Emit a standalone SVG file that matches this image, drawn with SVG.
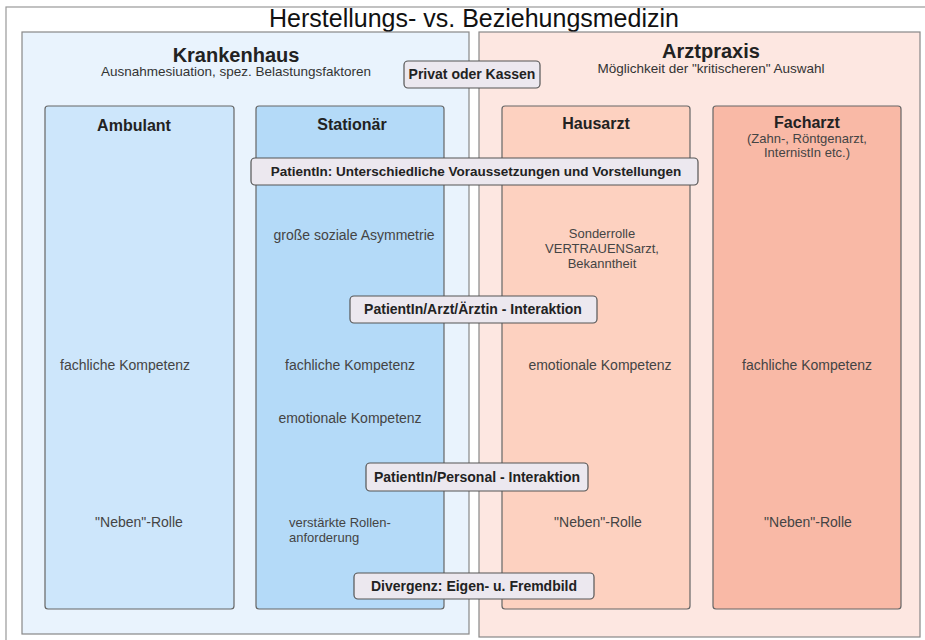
<svg xmlns="http://www.w3.org/2000/svg" width="925" height="640" viewBox="0 0 925 640">
<style>
text{font-family:"Liberation Sans",Arial,sans-serif}
.title{font-size:25px;fill:#111;text-anchor:middle}
.h1{font-size:20px;font-weight:bold;fill:#222;text-anchor:middle}
.sub{font-size:13.5px;fill:#333;text-anchor:middle}
.h2{font-size:16px;font-weight:bold;fill:#222;text-anchor:middle}
.body{font-size:14px;fill:#444;text-anchor:middle}
.ml{font-size:13px}
.left{text-anchor:start}
.pill rect{fill:#ECE8EF;stroke:#555;stroke-width:1.2}
.pill text{font-size:14px;font-weight:bold;fill:#222;text-anchor:middle}
.col{stroke:#666;stroke-width:1.2}
</style>
<rect x="0" y="0" width="925" height="640" fill="#ffffff"/>
<rect x="6" y="7" width="930" height="650" fill="#ffffff" stroke="#999" stroke-width="1.2"/>
<text class="title" x="474" y="27">Herstellungs- vs. Beziehungsmedizin</text>

<g id="krankenhaus">
<rect x="22" y="32" width="447" height="602" fill="#E9F3FD" stroke="#888" stroke-width="1.2"/>
<text class="h1" x="236" y="62">Krankenhaus</text>
<text class="sub" x="236" y="76">Ausnahmesiuation, spez. Belastungsfaktoren</text>
</g>
<g id="arztpraxis">
<rect x="479" y="32" width="441" height="605" fill="#FDE7E1" stroke="#888" stroke-width="1.2"/>
<text class="h1" x="711" y="58">Arztpraxis</text>
<text class="sub" x="711" y="73">Möglichkeit der "kritischeren" Auswahl</text>
</g>

<g id="ambulant">
<rect class="col" x="45" y="106" width="189" height="503" rx="3" fill="#CDE6FB"/>
<text class="h2" x="134" y="131">Ambulant</text>
<text class="body" x="125" y="370">fachliche Kompetenz</text>
<text class="body" x="139" y="527">"Neben"-Rolle</text>
</g>
<g id="stationaer">
<rect class="col" x="256" y="106" width="188" height="503" rx="3" fill="#B4DAF8"/>
<text class="h2" x="352" y="130">Stationär</text>
<text class="body" x="354" y="240">große soziale Asymmetrie</text>
<text class="body" x="350" y="370">fachliche Kompetenz</text>
<text class="body" x="350" y="423">emotionale Kompetenz</text>
<text class="body ml left" x="289" y="527">verstärkte Rollen-</text>
<text class="body ml left" x="289" y="542">anforderung</text>
</g>
<g id="hausarzt">
<rect class="col" x="502" y="106" width="188" height="503" rx="3" fill="#FDD1C0"/>
<text class="h2" x="596" y="129">Hausarzt</text>
<text class="body ml" x="602" y="238">Sonderrolle</text>
<text class="body ml" x="602" y="253">VERTRAUENSarzt,</text>
<text class="body ml" x="602" y="268">Bekanntheit</text>
<text class="body" x="600" y="370">emotionale Kompetenz</text>
<text class="body" x="598" y="527">"Neben"-Rolle</text>
</g>
<g id="facharzt">
<rect class="col" x="713" y="106" width="188" height="503" rx="3" fill="#F9B9A6"/>
<text class="h2" x="807" y="128">Facharzt</text>
<text class="body ml" x="807" y="143">(Zahn-, Röntgenarzt,</text>
<text class="body ml" x="807" y="157">InternistIn etc.)</text>
<text class="body" x="807" y="370">fachliche Kompetenz</text>
<text class="body" x="808" y="527">"Neben"-Rolle</text>
</g>

<g id="connectors"></g>

<g id="privat" class="pill">
<rect x="404" y="61" width="136" height="27" rx="4"/>
<text x="472" y="79">Privat oder Kassen</text>
</g>
<g id="patient" class="pill">
<rect x="251" y="158" width="447" height="27" rx="4"/>
<text x="476" y="176" style="font-size:13.5px">PatientIn: Unterschiedliche Voraussetzungen und Vorstellungen</text>
</g>
<g id="arzt-interaktion" class="pill">
<rect x="350" y="296" width="247" height="27" rx="4"/>
<text x="473" y="314">PatientIn/Arzt/Ärztin - Interaktion</text>
</g>
<g id="personal-interaktion" class="pill">
<rect x="366" y="463" width="222" height="28" rx="4"/>
<text x="477" y="482">PatientIn/Personal - Interaktion</text>
</g>
<g id="divergenz" class="pill">
<rect x="354" y="573" width="240" height="26" rx="4"/>
<text x="474" y="591">Divergenz: Eigen- u. Fremdbild</text>
</g>
</svg>
